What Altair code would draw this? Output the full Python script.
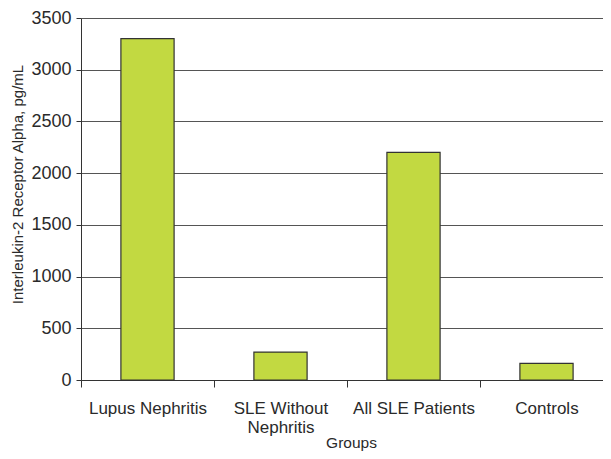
import altair as alt
import pandas as pd

groups = ["Lupus Nephritis", "SLE Without Nephritis", "All SLE Patients", "Controls"]
values = [3300, 270, 2200, 160]
y_ticks = [0, 500, 1000, 1500, 2000, 2500, 3000, 3500]

df = pd.DataFrame({"group": groups, "value": values})

FONT = "Liberation Sans"
TEXT = "#2a2a2a"

chart = (
    alt.Chart(df)
    .mark_bar(color="#C2D941", stroke="#333333", strokeWidth=1.2)
    .encode(
        x=alt.X(
            "group:N",
            sort=groups,
            scale=alt.Scale(paddingInner=0.6, paddingOuter=0.3, range=[0, 532]),
            axis=alt.Axis(
                title="Groups",
                labelAngle=0,
                labelFont=FONT,
                labelFontSize=17,
                labelColor=TEXT,
                labelPadding=13,
                labelLineHeight=19,
                labelBaseline="top",
                labelExpr="datum.label == 'SLE Without Nephritis' ? ['SLE Without', 'Nephritis'] : datum.label",
                bandPosition=0,
                tickOffset=-39.9,
                labelOffset=39.9,
                tickSize=7,
                tickColor="#333333",
                domainColor="#333333",
                titleFont=FONT,
                titleFontSize=15.5,
                titleFontWeight="normal",
                titleColor=TEXT,
                titleBaseline="alphabetic",
                titleX=270,
                titleY=67,
                grid=False,
            ),
        ),
        y=alt.Y(
            "value:Q",
            scale=alt.Scale(domain=[0, 3500], nice=False),
            axis=alt.Axis(
                title="Interleukin-2 Receptor Alpha, pg/mL",
                values=y_ticks,
                format="d",
                labelFont=FONT,
                labelFontSize=18,
                labelColor=TEXT,
                labelPadding=5,
                tickSize=5,
                tickColor="#333333",
                domainColor="#333333",
                grid=True,
                gridColor="#555555",
                gridWidth=1,
                titleFont=FONT,
                titleFontSize=15,
                titleFontWeight="normal",
                titleColor=TEXT,
                titleAngle=270,
                titleBaseline="middle",
                titleAlign="center",
                titleX=-64,
                titleY=166,
            ),
        ),
    )
    .properties(
        width=522,
        height=362,
        autosize=alt.AutoSizeParams(type="none"),
        padding={"left": 73, "top": 10, "right": 0, "bottom": 71},
    )
    .configure_view(stroke=None)
)

chart.save("out.html", embed_options={"renderer": "svg", "actions": False})
